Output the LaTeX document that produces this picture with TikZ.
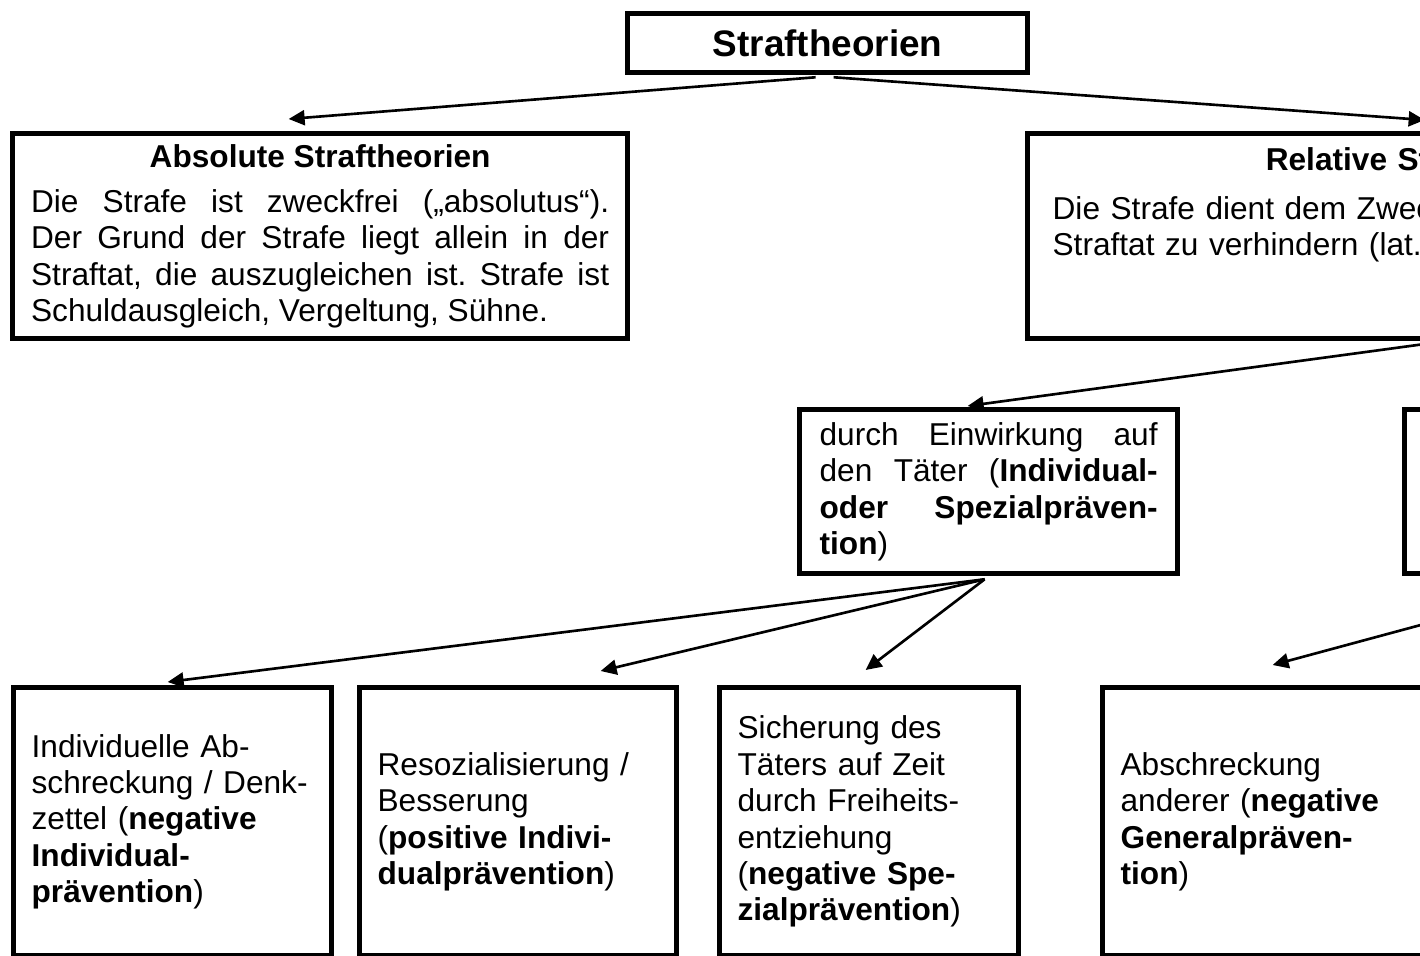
\documentclass[tikz,border=0pt]{standalone}
\usepackage{fontspec}
\setmainfont{Liberation Sans}
\usetikzlibrary{arrows.meta,calc}
\tolerance=10000
\hbadness=10000
\frenchspacing
\def\pxu{0.02cm}

\tikzset{
    box/.style={draw, line width=3pt, anchor=north west, inner xsep=18*\pxu, inner ysep=0pt,
        font=\fontsize{18pt}{20.7pt}\selectfont},
    link/.style={-{Triangle[length=0.32cm,width=0.3cm]}, line width=1.5pt},
}

\begin{document}
\begin{tikzpicture}[x=0.02cm,y=-0.02cm]
    % Page frame, the right part of the chart is cut off
    \useasboundingbox (0,0) rectangle (1420,956);
    \clip (0,0) rectangle (1420,956);

    % Top level
    \node[box, minimum width=400*\pxu, minimum height=59*\pxu,
        font=\fontsize{21pt}{24pt}\selectfont\bfseries] (title) at (625,11) {Straftheorien};

    \node[box, minimum width=615*\pxu, minimum height=205*\pxu, text width=578*\pxu, align=justify] (abs) at (10,131)
        {\makebox[\linewidth]{\bfseries Absolute Straftheorien}\\[0.18cm]
         Die Strafe ist zweckfrei („absolutus“).\linebreak
         Der Grund der Strafe liegt allein in der\linebreak
         Straftat, die auszugleichen ist. Strafe ist\linebreak
         Schuldausgleich, Vergeltung, Sühne.};

    \node[box, minimum width=805*\pxu, minimum height=205*\pxu] (rel) at (1025,131) {};
    \node[anchor=north, text width=755*\pxu, align=left, inner sep=0pt,
        font=\fontsize{18pt}{20.7pt}\selectfont] (reltext) at ([yshift=-16*\pxu]rel.north)
        {\makebox[\linewidth]{\bfseries Relative Straftheorien}\\[0.25cm]
         Die Strafe dient dem Zweck\\
         Straftat zu verhindern (lat.};

    % Middle level
    \node[box, minimum width=378*\pxu, minimum height=164*\pxu, text width=338*\pxu, align=justify] (mid) at (797,407)
        {durch Einwirkung auf\linebreak den Täter (\textbf{Individual-\linebreak oder Spezialpräven-\linebreak tion})};
    \node[box, minimum width=378*\pxu, minimum height=164*\pxu] (rmid) at (1402,407) {};

    % Bottom level
    \node[box, minimum width=318*\pxu, minimum height=268*\pxu, text width=282*\pxu, align=left] (b1) at (11,685)
        {Individuelle Ab-\\schreckung / Denk-\\zettel (\textbf{negative}\\\textbf{Individual-}\\\textbf{prävention})};
    \node[box, minimum width=317*\pxu, minimum height=268*\pxu, text width=281*\pxu, align=left] (b2) at (357,685)
        {Resozialisierung /\\Besserung\\(\textbf{positive Indivi-}\\\textbf{dualprävention})};
    \node[box, minimum width=299*\pxu, minimum height=268*\pxu, text width=263*\pxu, align=left] (b3) at (717,685)
        {Sicherung des\\Täters auf Zeit\\durch Freiheits-\\entziehung\\(\textbf{negative Spe-}\\\textbf{zialprävention})};
    \node[box, minimum width=340*\pxu, minimum height=268*\pxu, text width=304*\pxu, align=left] (b4) at (1100,685)
        {Abschreckung\\anderer (\textbf{negative}\\\textbf{Generalpräven-}\\\textbf{tion})};

    % Arrows
    \draw[link] ($(title.south)+(-12,2)$) -- ($(abs.north)+(-31.5,-12)$);
    \draw[link] ($(title.south)+(6,2)$) -- ($(rel.north)+(-5.5,-11)$);
    \draw[link] ($(rel.south)+(0,2)$) -- ($(mid.north)+(-21,-1)$);
    \foreach \target/\dx/\dy in {b1/-5/-3, b2/82.5/-14, b3/-3.5/-15}
        \draw[link] ($(mid.south)+(-4,3)$) -- ($(\target.north)+(\dx,\dy)$);
    \draw[link] ($(rmid.south)+(0,2)$) -- ($(b4.north)+(0,-20)$);
\end{tikzpicture}
\end{document}
